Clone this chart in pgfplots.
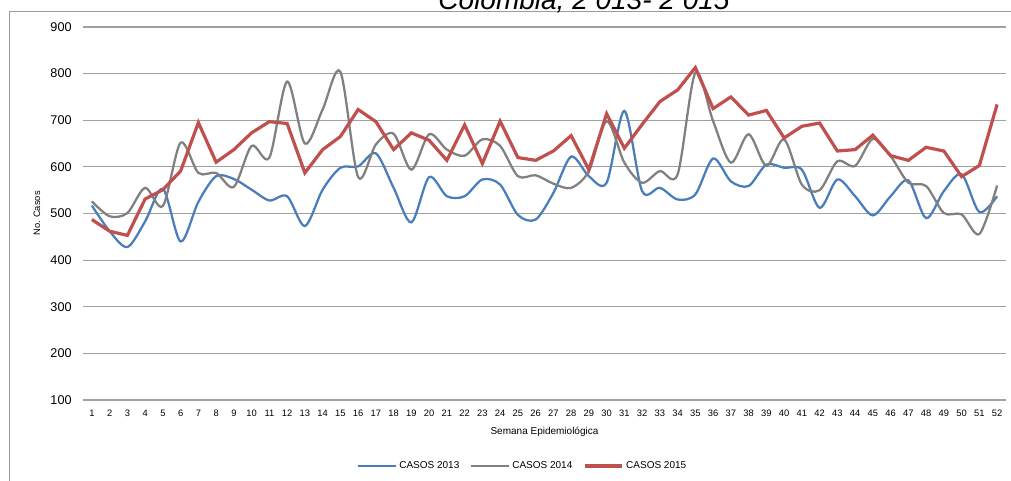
\documentclass[border=0pt]{standalone}
\usepackage{fontspec}
\setmainfont{Liberation Sans}
\usepackage{pgfplots}
\pgfplotsset{compat=1.18}
\usepackage{pgfplotstable}
\definecolor{c13}{HTML}{4A7EBB}
\definecolor{c14}{HTML}{808080}
\definecolor{c15}{HTML}{C0504D}
\definecolor{gridgray}{HTML}{A0A0A0}
\definecolor{framegray}{HTML}{9A9A9A}

\pgfplotstableread{
w c13 c14 c15
1 517 526 487
2 462 494 462
3 428 501 453
4 483 555 531
5 553 516 551
6 440 652 591
7 525 587 695
8 580 587 610
9 574 557 637
10 551 645 673
11 528 620 697
12 537 783 693
13 473 650 587
14 551 723 637
15 598 804 665
16 601 578 723
17 629 648 697
18 555 671 637
19 481 594 673
20 578 670 657
21 537 637 614
22 537 624 690
23 573 659 607
24 562 645 698
25 497 580 620
26 487 582 614
27 544 564 634
28 622 555 667
29 580 591 594
30 566 698 714
31 720 609 640
32 548 566 691
33 555 591 740
34 530 584 765
35 541 802 813
36 618 698 725
37 569 609 750
38 559 670 711
39 605 602 721
40 598 659 662
41 594 562 687
42 512 550 694
43 573 612 634
44 537 602 637
45 496 660 668
46 537 623 624
47 571 566 614
48 490 559 642
49 548 501 634
50 584 498 579
51 503 456 603
52 537 560 734
}\datatable

\begin{document}
\begin{tikzpicture}
\useasboundingbox (0,0) rectangle (758.25pt,360.75pt);
\clip (0,0) rectangle (758.25pt,360.75pt);
\begin{scope}[x=0.75pt,y=0.75pt]
\draw[framegray, line width=0.75pt] (9,-10) -- (9,469) -- (1030,469);
\node[font=\fontsize{21}{21}\selectfont\itshape, anchor=base, inner sep=0pt] at (584,471.5) {Colombia, 2 013- 2 015};
\end{scope}
\begin{axis}[
  at={(62.25pt,60.75pt)}, anchor=south west,
  scale only axis,
  width=692.25pt, height=279.75pt,
  xmin=0.5, xmax=52.5, ymin=100, ymax=900,
  xtick={1,...,52}, ytick={100,200,...,900},
  ymajorgrids,
  grid style={draw=gridgray, line width=0.8pt},
  axis line style={draw=none},
  major tick length=0pt,
  /pgf/number format/assume math mode=true,
  xticklabel style={font=\fontsize{7}{8}\selectfont, yshift=-4pt},
  yticklabel style={font=\fontsize{9.5}{10}\selectfont, xshift=-5pt},
  xlabel={Semana Epidemiológica},
  ylabel={No. Casos},
  every axis x label/.style={at={(rel axis cs:0.5,0)}, anchor=center, yshift=-24pt, font=\fontsize{7.5}{8}\selectfont},
  every axis y label/.style={at={(rel axis cs:0,0.5)}, xshift=-34.5pt, anchor=center, rotate=90, font=\fontsize{7}{8}\selectfont},
  legend columns=3,
  legend style={at={(rel axis cs:0.4767,-0.177)}, anchor=center, draw=none, fill=none,
    font=\fontsize{7.5}{8}\selectfont, /tikz/every even column/.append style={column sep=6pt}},
  legend image code/.code={\draw[#1] (0pt,0pt) -- (28pt,0pt);},
]
\addplot[c13, line width=1.7pt, smooth] table[x=w, y=c13] {\datatable};
\addlegendentry{CASOS 2013}
\addplot[c14, line width=1.7pt, smooth] table[x=w, y=c14] {\datatable};
\addlegendentry{CASOS 2014}
\addplot[c15, line width=2.4pt] table[x=w, y=c15] {\datatable};
\addlegendentry{CASOS 2015}
\end{axis}
\end{tikzpicture}
\end{document}
